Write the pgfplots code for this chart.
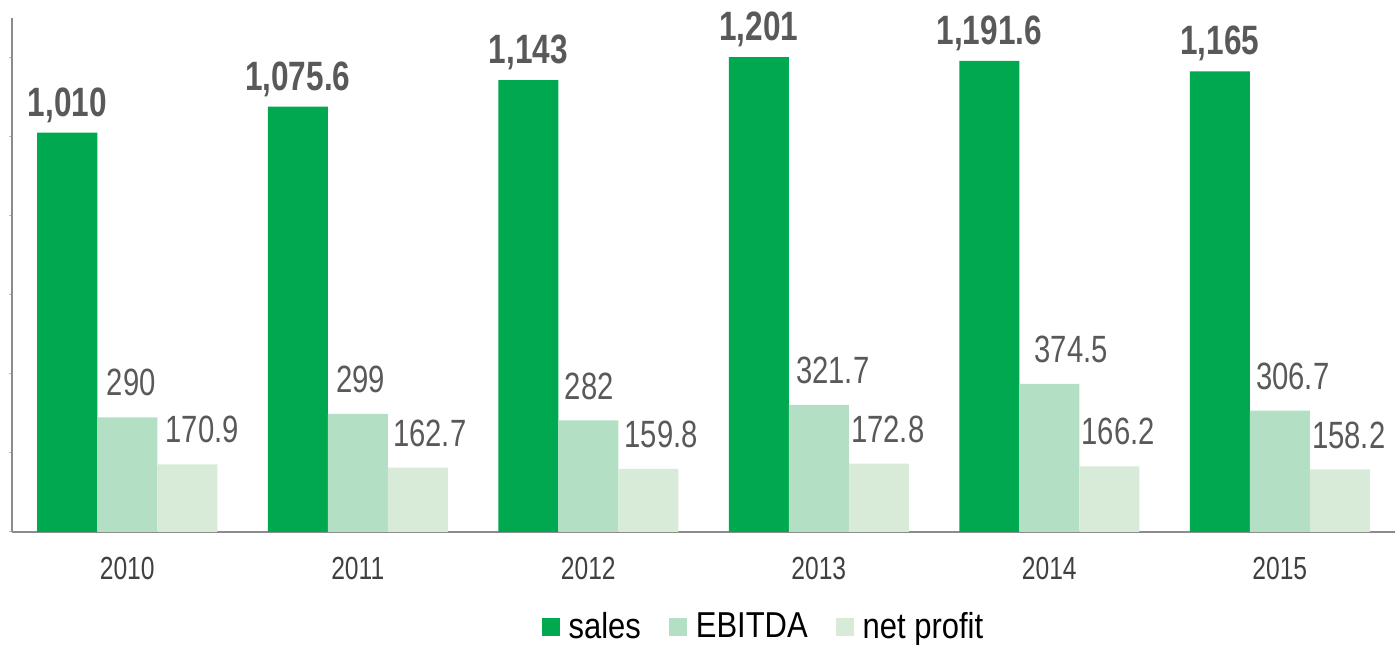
\documentclass[border=0pt]{standalone}
\usepackage{pgfplots}
\pgfplotsset{compat=1.18}
\usepackage{pgfplotstable}
\usepackage{fontspec}
\setmainfont{Liberation Sans}[FakeStretch=0.77]
\newfontfamily\legfont{Liberation Sans}[FakeStretch=0.86]

\definecolor{salesc}{RGB}{0,168,79}
\definecolor{ebitdac}{RGB}{179,223,196}
\definecolor{netc}{RGB}{216,235,217}
\definecolor{labc}{RGB}{89,89,89}
\definecolor{tickc}{RGB}{64,64,64}
\definecolor{axc}{RGB}{140,140,140}

% x  value  label  label shift (pt)
\pgfplotstableread{
x y lab dx
0 1010 1,010 0
1 1075.6 1,075.6 0
2 1143 1,143 0
3 1201 1,201 0
4 1191.6 1,191.6 0
5 1165 1,165 0
}\sales
\pgfplotstableread{
x y lab dx
0 290 290 2
1 299 299 1.5
2 282 282 0.5
3 321.7 321.7 7
4 374.5 374.5 11
5 306.7 306.7 6.5
}\ebitda
\pgfplotstableread{
x y lab dx
0 170.9 170.9 7.5
1 162.7 162.7 6
2 159.8 159.8 6.5
3 172.8 172.8 4.5
4 166.2 166.2 4.5
5 158.2 158.2 4.5
}\netprofit

\begin{document}
\begin{tikzpicture}
\begin{axis}[
    name=ax,
    scale only axis,
    width=691.5pt, height=257pt,
    ybar=0pt, bar width=30pt,
    xmin=-0.5, xmax=5.5,
    ymin=0, ymax=1300,
    axis x line*=bottom,
    axis y line*=left,
    axis line style={axc, line width=0.8pt},
    xtick={0,...,5},
    xticklabels={2010,2011,2012,2013,2014,2015},
    xtick style={draw=none},
    minor xtick={-0.5,0.5,...,5.5},
    minor tick style={axc, line width=0.8pt},
    minor tick length=5pt,
    ytick={0,200,...,1200},
    yticklabels={},
    ytick style={axc!60, line width=0.5pt},
    major tick length=1.5pt,
    tick align=outside,
    xticklabel style={font=\fontsize{16}{18}\selectfont, text=tickc, yshift=-7.5pt},
    nodes near coords,
    point meta=explicit symbolic,
    visualization depends on={\thisrow{dx} \as \dx},
    every node near coord/.append style={xshift=\dx pt},
    legend style={at={(0.544,-0.185)}, anchor=center, draw=none,
        font=\legfont\fontsize{18}{20}\selectfont, legend columns=-1,
        /tikz/every odd column/.append style={column sep=2.5pt},
        /tikz/every even column/.append style={column sep=12pt}},
    legend image code/.code={\fill[#1] (0pt,-4.5pt) rectangle (9pt,4.5pt);},
]
\addplot[fill=salesc, draw=none,
    every node near coord/.append style={font=\bfseries\fontsize{20.5}{22}\selectfont, text=labc, yshift=1.5pt}]
    table[x=x, y=y, meta=lab] {\sales};
\addplot[fill=ebitdac, draw=none,
    every node near coord/.append style={font=\fontsize{19}{21}\selectfont, text=labc, yshift=7pt}]
    table[x=x, y=y, meta=lab] {\ebitda};
\addplot[fill=netc, draw=none,
    every node near coord/.append style={font=\fontsize{19}{21}\selectfont, text=labc, yshift=7pt}]
    table[x=x, y=y, meta=lab] {\netprofit};
\legend{sales, EBITDA, net profit}
\end{axis}
\pgfresetboundingbox
\path[use as bounding box] ([xshift=-6pt,yshift=-56.5pt]ax.south west) rectangle ([xshift=2pt,yshift=9pt]ax.north east);
\end{tikzpicture}
\end{document}
